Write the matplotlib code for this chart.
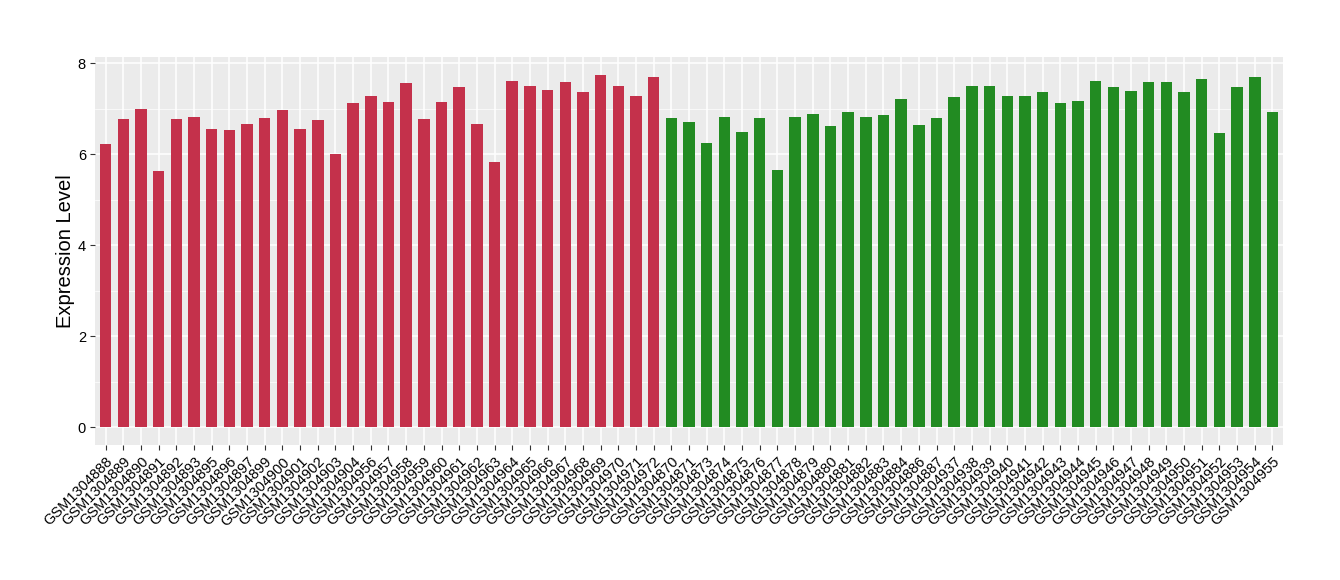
import matplotlib
matplotlib.use("Agg")
import matplotlib.pyplot as plt
import numpy as np
from matplotlib.ticker import MultipleLocator

red_samples = ["GSM1304888", "GSM1304889", "GSM1304890", "GSM1304891", "GSM1304892",
               "GSM1304893", "GSM1304895", "GSM1304896", "GSM1304897", "GSM1304899",
               "GSM1304900", "GSM1304901", "GSM1304902", "GSM1304903", "GSM1304904",
               "GSM1304956", "GSM1304957", "GSM1304958", "GSM1304959", "GSM1304960",
               "GSM1304961", "GSM1304962", "GSM1304963", "GSM1304964", "GSM1304965",
               "GSM1304966", "GSM1304967", "GSM1304968", "GSM1304969", "GSM1304970",
               "GSM1304971", "GSM1304972"]
red_values = [6.22, 6.77, 6.99, 5.63, 6.77, 6.83, 6.55, 6.53, 6.66, 6.79,
              6.97, 6.55, 6.75, 6.00, 7.12, 7.29, 7.14, 7.56, 6.77, 7.14,
              7.47, 6.66, 5.83, 7.60, 7.49, 7.42, 7.58, 7.36, 7.75, 7.51,
              7.29, 7.69]

green_samples = ["GSM1304870", "GSM1304871", "GSM1304873", "GSM1304874", "GSM1304875",
                 "GSM1304876", "GSM1304877", "GSM1304878", "GSM1304879", "GSM1304880",
                 "GSM1304881", "GSM1304882", "GSM1304883", "GSM1304884", "GSM1304886",
                 "GSM1304887", "GSM1304937", "GSM1304938", "GSM1304939", "GSM1304940",
                 "GSM1304941", "GSM1304942", "GSM1304943", "GSM1304944", "GSM1304945",
                 "GSM1304946", "GSM1304947", "GSM1304948", "GSM1304949", "GSM1304950",
                 "GSM1304951", "GSM1304952", "GSM1304953", "GSM1304954", "GSM1304955"]
green_values = [6.79, 6.72, 6.24, 6.81, 6.48, 6.79, 5.65, 6.83, 6.88, 6.62,
                6.94, 6.83, 6.86, 7.21, 6.64, 6.79, 7.25, 7.49, 7.49, 7.29,
                7.27, 7.36, 7.12, 7.18, 7.60, 7.47, 7.38, 7.58, 7.58, 7.36,
                7.66, 6.46, 7.47, 7.69, 6.94]

y_ticks = [0, 2, 4, 6, 8]
y_label = "Expression Level"

RED = "#C4314B"
GREEN = "#228B22"

plt.rcParams['font.family'] = ['Liberation Sans', 'DejaVu Sans']

labels = red_samples + green_samples
values = red_values + green_values
colors = [RED] * len(red_values) + [GREEN] * len(green_values)
x = np.arange(len(labels))

fig = plt.figure(figsize=(13.4, 5.8), dpi=100)
ax = fig.add_axes([0.0709, 0.2328, 0.8866, 0.6689])
ax.set_facecolor("#EBEBEB")

ax.bar(x, values, width=0.65, color=colors, zorder=3)

ax.set_xlim(-0.6, len(labels) - 1 + 0.6)
ymax = max(values)
ax.set_ylim(-0.05 * ymax, ymax * 1.05)

ax.set_yticks(y_ticks)
ax.yaxis.set_minor_locator(MultipleLocator(1))
ax.set_xticks(x)
ax.set_xticklabels(labels, rotation=45, ha="right", va="top",
                   rotation_mode="anchor", fontsize=10.5, color="#000000")
ax.tick_params(axis="y", labelsize=10.5, labelcolor="#000000", pad=3)
ax.tick_params(axis="both", which="major", length=3.5, width=0.8, color="#333333")
ax.tick_params(axis="y", which="minor", length=0)

ax.grid(True, which="major", color="white", linewidth=1.1, zorder=0)
ax.grid(True, which="minor", axis="y", color="white", linewidth=0.5, zorder=0)
ax.set_axisbelow(True)

for s in ax.spines.values():
    s.set_visible(False)

ax.set_ylabel(y_label, fontsize=14.5, labelpad=2)

fig.savefig("out.png", dpi=100, facecolor="white")
